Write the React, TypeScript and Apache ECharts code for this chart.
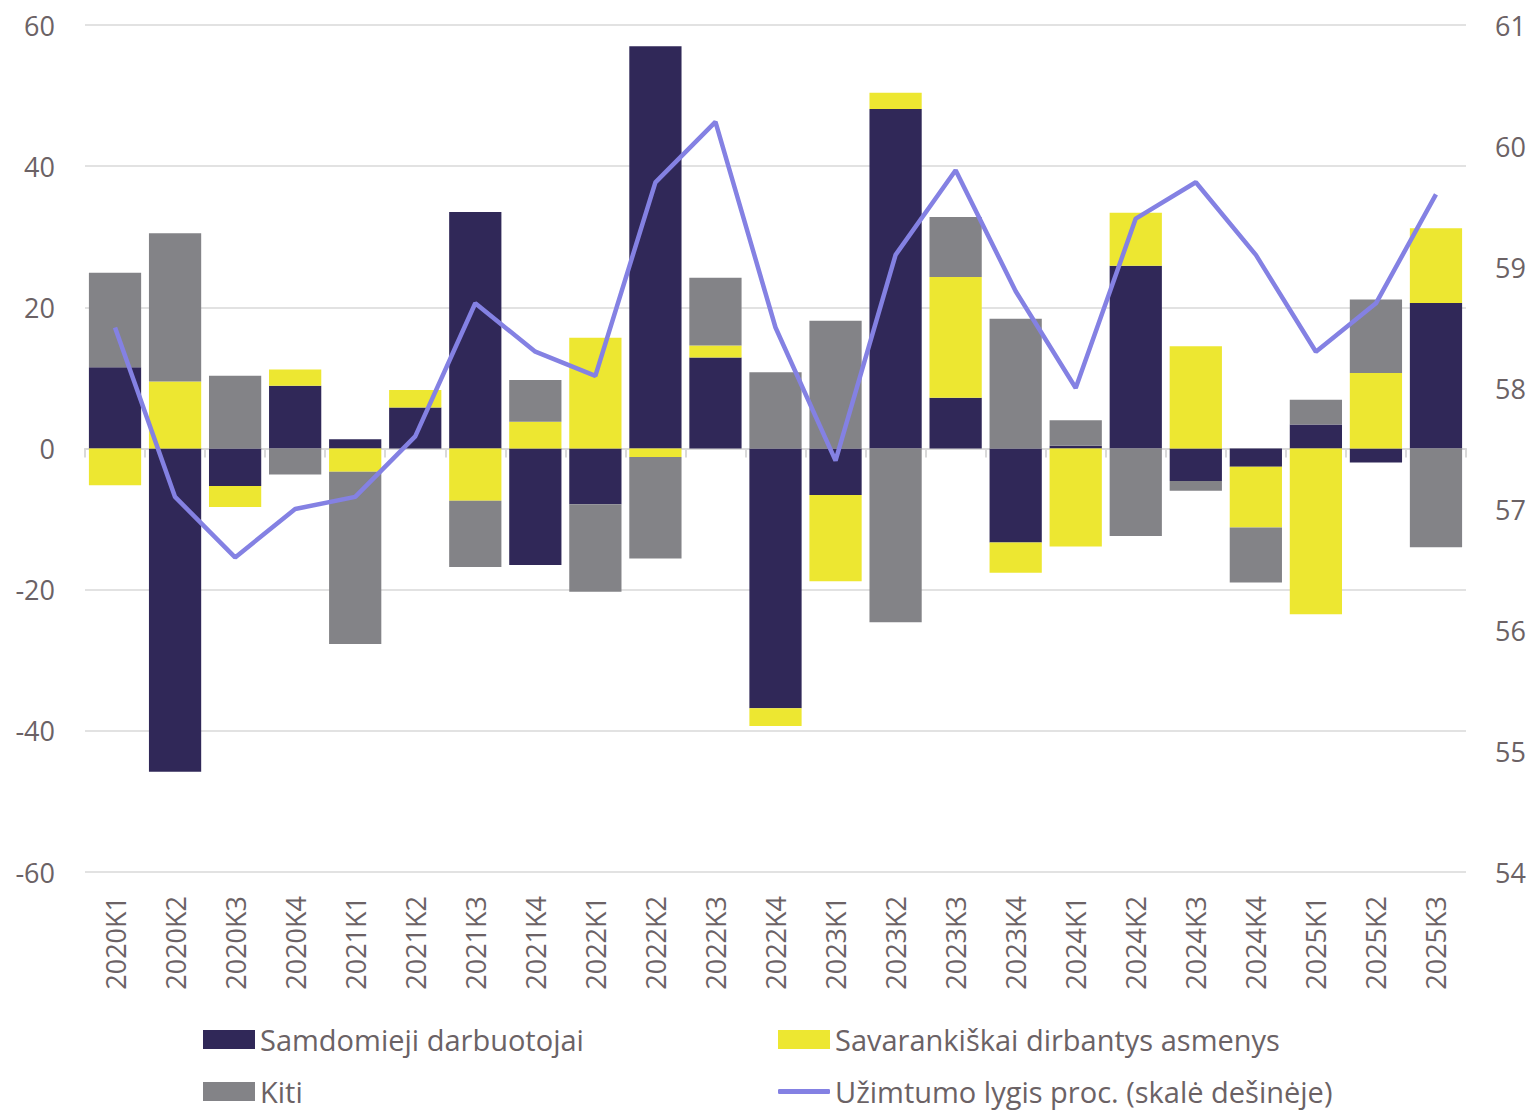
import React, { useEffect, useRef } from "react";
import * as echarts from "echarts";

const categories = [
  "2020K1", "2020K2", "2020K3", "2020K4",
  "2021K1", "2021K2", "2021K3", "2021K4",
  "2022K1", "2022K2", "2022K3", "2022K4",
  "2023K1", "2023K2", "2023K3", "2023K4",
  "2024K1", "2024K2", "2024K3", "2024K4",
  "2025K1", "2025K2", "2025K3",
];

const samdomieji = [11.5, -45.8, -5.3, 8.9, 1.3, 5.8, 33.5, -16.5, -7.9, 57.0, 12.9, -36.8, -6.6, 48.1, 7.2, -13.3, 0.4, 25.9, -4.6, -2.6, 3.4, -2.0, 20.6];
const savarankiskai = [-5.2, 9.5, -3.0, 2.3, -3.3, 2.5, -7.4, 3.8, 15.7, -1.2, 1.7, -2.5, -12.2, 2.3, 17.1, -4.3, -13.9, 7.5, 14.5, -8.6, -23.5, 10.7, 10.6];
const kiti = [13.4, 21.0, 10.3, -3.7, -24.4, 0, -9.4, 5.9, -12.4, -14.4, 9.6, 10.8, 18.1, -24.6, 8.5, 18.4, 3.6, -12.4, -1.4, -7.8, 3.5, 10.4, -14.0];
const uzimtumas = [58.5, 57.1, 56.6, 57.0, 57.1, 57.6, 58.7, 58.3, 58.1, 59.7, 60.2, 58.5, 57.4, 59.1, 59.8, 58.8, 58.0, 59.4, 59.7, 59.1, 58.3, 58.7, 59.6];

const NAMES = [
  "Samdomieji darbuotojai",
  "Savarankiškai dirbantys asmenys",
  "Kiti",
  "Užimtumo lygis proc. (skalė dešinėje)",
];

const FONT = "'Open Sans', sans-serif";
const TXT = "#6b6265";
const GRID = "#d9d9d9";

export default function App() {
  const ref = useRef<HTMLDivElement>(null);
  useEffect(() => {
    if (!ref.current) return;
    const chart = echarts.init(ref.current, undefined, { renderer: "svg" });
    const legendBase = (name: string, left: number, top: number, line = false) => ({
      data: [name],
      left,
      top,
      padding: 0,
      itemWidth: 52,
      itemHeight: line ? 5 : 19,
      icon: line ? "roundRect" : "rect",
      selectedMode: false,
      textStyle: { fontSize: 29, color: TXT, fontFamily: FONT },
    });
    chart.setOption({
      animation: false,
      textStyle: { fontFamily: FONT },
      grid: { left: 85, right: 73, top: 25, bottom: 238, containLabel: false },
      legend: [
        legendBase(NAMES[0], 203, 1025),
        legendBase(NAMES[1], 778, 1025),
        legendBase(NAMES[2], 203, 1077),
        legendBase(NAMES[3], 778, 1077, true),
      ],
      xAxis: [
        {
          type: "category",
          data: categories,
          position: "bottom",
          axisLine: { show: false, onZero: false },
          axisTick: { show: false },
          axisLabel: { rotate: 90, fontSize: 27, color: TXT, margin: 24, fontFamily: FONT },
        },
        {
          type: "category",
          data: categories,
          position: "bottom",
          axisLine: { show: true, onZero: true, lineStyle: { color: GRID, width: 2 } },
          axisTick: { show: true, length: 9, lineStyle: { color: GRID, width: 2 } },
          axisLabel: { show: false },
        },
      ],
      yAxis: [
        {
          type: "value",
          min: -60,
          max: 60,
          interval: 20,
          axisLine: { show: false },
          axisTick: { show: false },
          axisLabel: { fontSize: 27, color: TXT, margin: 30, fontFamily: FONT },
          splitLine: { lineStyle: { color: GRID, width: 1.5 } },
        },
        {
          type: "value",
          min: 54,
          max: 61,
          interval: 1,
          position: "right",
          axisLine: { show: false },
          axisTick: { show: false },
          axisLabel: { fontSize: 27, color: TXT, margin: 29, fontFamily: FONT },
          splitLine: { show: false },
        },
      ],
      series: [
        {
          name: NAMES[0],
          type: "bar",
          stack: "total",
          data: samdomieji,
          barCategoryGap: "13%",
          itemStyle: { color: "#302858" },
        },
        {
          name: NAMES[1],
          type: "bar",
          stack: "total",
          data: savarankiskai,
          barCategoryGap: "13%",
          itemStyle: { color: "#ede731" },
        },
        {
          name: NAMES[2],
          type: "bar",
          stack: "total",
          data: kiti,
          barCategoryGap: "13%",
          itemStyle: { color: "#838387" },
        },
        {
          name: NAMES[3],
          type: "line",
          yAxisIndex: 1,
          data: uzimtumas,
          showSymbol: false,
          symbol: "none",
          z: 5,
          lineStyle: { color: "#8481e3", width: 4.5 },
          itemStyle: { color: "#8481e3" },
        },
      ],
    });
    return () => chart.dispose();
  }, []);
  return (
    <div
      ref={ref}
      style={{ position: "fixed", left: 0, top: 0, width: 1539, height: 1110, background: "#fff" }}
    />
  );
}
